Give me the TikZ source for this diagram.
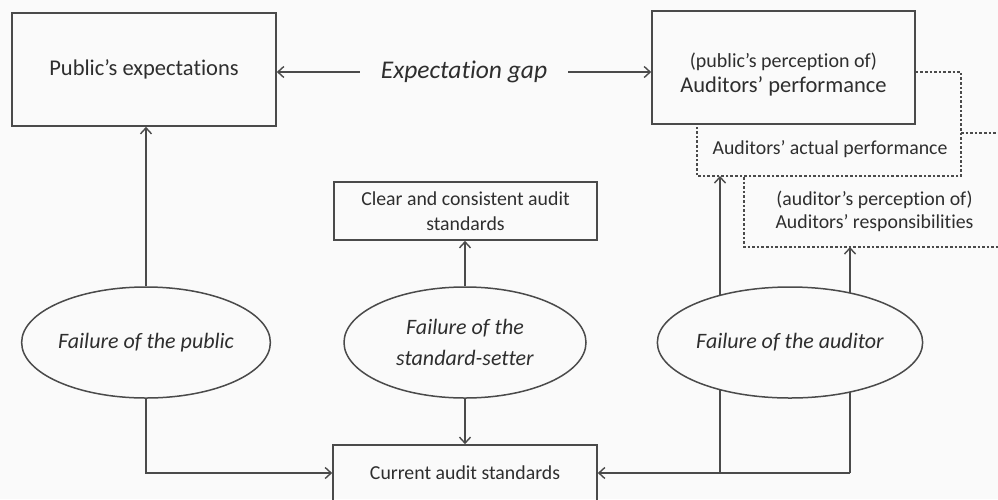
\documentclass[tikz,border=0pt]{standalone}
\usepackage{fontspec}
\setmainfont{Carlito}[Ligatures={TeX,NoCommon}]
\usepackage{tikz}
\usetikzlibrary{shapes.geometric}
\usetikzlibrary{arrows.meta}
\usetikzlibrary{backgrounds}
\definecolor{ln}{HTML}{4A4A4A}
\definecolor{tx}{HTML}{2E2E2E}
\definecolor{bg}{HTML}{FAFAFA}
\tikzset{
  box/.style = {draw=ln, line width=1.6pt, rectangle, align=center, inner sep=0pt, text=tx},
  big/.style = {font=\fontsize{22.5}{25}\selectfont},
  small/.style = {font=\fontsize{19.8}{25}\selectfont},
  fail/.style = {draw=ln, line width=1.5pt, ellipse, fill=bg, minimum width=242pt, minimum height=111pt, inner sep=0pt, align=center, text=tx, font=\itshape\fontsize{22}{31}\selectfont},% ellipses of the three failures
  dsh/.style = {draw=ln, line width=1.4pt, dash pattern=on 2.6pt off 2pt},
  arr/.style = {draw=ln, line width=1.4pt, -{Straight Barb[length=6pt,width=11pt]}}
}

\begin{document}
\begin{tikzpicture}[x=1pt, y=-1pt]
\begin{scope}[on background layer]
\fill[bg] (0,0) rectangle (998,499);
\end{scope}
\useasboundingbox (0,0) rectangle (998,499);
\node [box, big, minimum width=264pt, minimum height=113pt] (pub) at (144,69.5) {Public's expectations};
\node [box, minimum width=263pt, minimum height=113pt] (perf) at (783.5,67.5) {};
\node [align=center, big, text=tx] (perftxt) at (783.5,74.5) {{\fontsize{20}{25}\selectfont (public's perception of)}\\Auditors' performance};
\node [font=\itshape\fontsize{25.5}{30}\selectfont, inner xsep=21pt, text=tx] (gap) at (464,72) {Expectation gap};
\draw [arr] (gap.west) -- (gap.west -| pub.east);
\draw [arr] (gap.east) -- (gap.east -| perf.west);
% dashed boxes
\node [small, text=tx] (act) at (830,149) {Auditors' actual performance};
\node [small, align=center, text=tx, font=\fontsize{19.8}{23}\selectfont] (resp) at (874.5,211.5) {(auditor's perception of)\\Auditors' responsibilities};
\coordinate (actin) at (720,176);
\coordinate (respin) at (850,247);
\coordinate (actcorner) at (697,176);
\draw [dsh] ([yshift=-4.5pt]perf.east) -- (961,72) -- (961,176) -- (actcorner) -- (actcorner |- perf.south);
\draw [dsh] (961,133) -- (998,133);
\draw [dsh] (744,177) -- (744,247) -- (998,247);
\node [box, small, minimum width=263pt, minimum height=58pt] (clear) at (465.5,211) {Clear and consistent audit\\standards};
\node [box, small, minimum width=264pt, minimum height=56pt] (cur) at (465,473) {Current audit standards};
\node [fail] (fpub) at (146,342.5) {Failure of the public};
\node [fail] (fstd) at (465,342.5) {Failure of the\\standard-setter};
\node [fail] (faud) at (790,342.5) {Failure of the auditor};
\draw [arr] (fpub.north) -- (fpub.north |- pub.south);
\draw [arr] (fpub.south) |- (cur.west);
\draw [arr] (fstd.north) -- (fstd.north |- clear.south);
\draw [arr] (fstd.south) -- (fstd.south |- cur.north);
\begin{scope}[on background layer]
\draw [arr] (cur.east -| actin) -- (actin);
\draw [arr] (cur.east -| respin) -- (respin);
\draw [arr] (cur.east -| respin) -- (cur.east);
\end{scope}
\end{tikzpicture}
\end{document}
